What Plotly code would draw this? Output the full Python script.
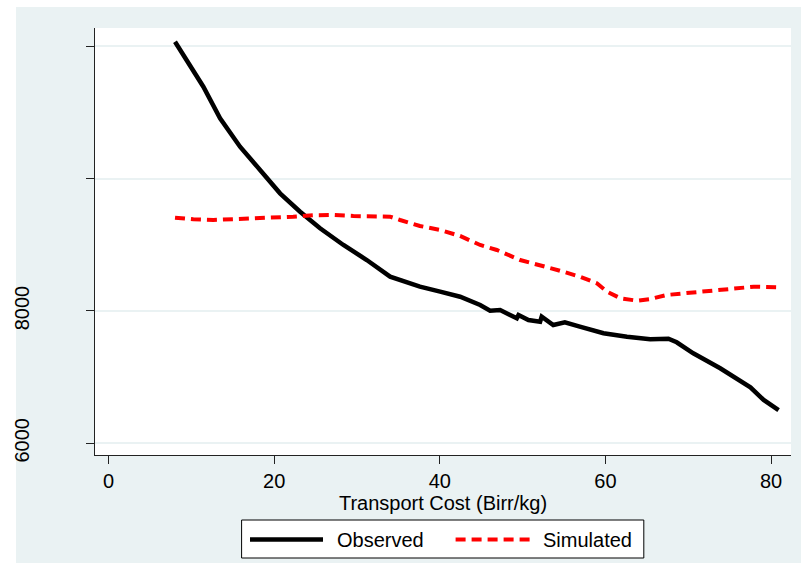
import plotly.graph_objects as go

# ---- data ----
obs_x = [8.03, 9.8, 11.45, 13.47, 15.88, 18.30, 20.71, 23.13, 25.54, 28.36, 31.18, 34.0, 37.6,
         40.04, 42.45, 44.87, 46.07, 47.28, 49.3, 49.5, 50.7, 52.11, 52.3, 53.7, 55.1,
         56.9, 59.76, 62.6, 65.4, 67.6, 68.6, 70.6, 73.85, 77.5, 79.1, 80.9]
obs_y = [12070, 11720, 11391, 10913, 10484, 10132, 9779, 9501, 9250, 8998, 8771, 8519, 8367,
         8292, 8216, 8091, 8005, 8015, 7890, 7940, 7864, 7838, 7914, 7788, 7829,
         7763, 7663, 7612, 7572, 7581, 7527, 7360, 7134, 6847, 6655, 6503]

sim_x = [8.03, 10.24, 12.66, 15.07, 17.49, 19.9, 22.3, 24.7, 27.15, 29.57, 31.98, 34.0,
         35.2, 37.6, 40.04, 42.45, 44.87, 46.88, 49.7, 52.1, 54.5, 56.9, 58.96, 60.2,
         61.8, 63.8, 65.4, 67.4, 69.8, 72.25, 75.06, 77.9, 80.9]
sim_y = [9411, 9386, 9376, 9386, 9396, 9411, 9426, 9447, 9451, 9436, 9426, 9426,
         9376, 9285, 9225, 9134, 8998, 8922, 8771, 8695, 8609, 8519, 8419, 8292,
         8192, 8156, 8181, 8242, 8268, 8292, 8333, 8367, 8358]

x_ticks = [0, 20, 40, 60, 80]
x_tick_labels = ["0", "20", "40", "60", "80"]
y_ticks = [6000, 8000, 10000, 12000]
y_tick_labels = ["6000", "8000", "", ""]

series_names = ["Observed", "Simulated"]
x_title = "Transport Cost (Birr/kg)"

# ---- layout geometry (pixels) ----
W, H = 801, 563
ML, MR, MT, MB = 95, 10, 28, 108
PW, PH = W - ML - MR, H - MT - MB
BG = "#EAF2F3"
FONT = "Liberation Sans, Arial, sans-serif"


def px_x(p):
    return (p - ML) / PW


def px_y(p):
    return (H - MB - p) / PH


fig = go.Figure()
fig.add_trace(go.Scatter(x=obs_x, y=obs_y, mode="lines", name=series_names[0],
                         line=dict(color="black", width=4.5), showlegend=False))
fig.add_trace(go.Scatter(x=sim_x, y=sim_y, mode="lines", name=series_names[1],
                         line=dict(color="red", width=4, dash="10px,6px"), showlegend=False))

shapes = [
    # white strips outside the graph region
    dict(type="rect", xref="paper", yref="paper", x0=px_x(0), x1=px_x(16), y0=px_y(H), y1=px_y(0),
         fillcolor="white", line=dict(width=0), layer="below"),
    dict(type="rect", xref="paper", yref="paper", x0=px_x(0), x1=px_x(W), y0=px_y(7), y1=px_y(0),
         fillcolor="white", line=dict(width=0), layer="below"),
    # legend box
    dict(type="rect", xref="paper", yref="paper", x0=px_x(241.6), x1=px_x(643.8),
         y0=px_y(558), y1=px_y(520), fillcolor="white", line=dict(color="black", width=1),
         layer="below"),
    dict(type="line", xref="paper", yref="paper", x0=px_x(250), x1=px_x(323),
         y0=px_y(539.5), y1=px_y(539.5), line=dict(color="black", width=4.5)),
    dict(type="line", xref="paper", yref="paper", x0=px_x(455.6), x1=px_x(530),
         y0=px_y(539.5), y1=px_y(539.5), line=dict(color="red", width=4, dash="10px,6px")),
]

annotations = [
    dict(text=series_names[0], xref="paper", yref="paper", x=px_x(335), y=px_y(540),
         xanchor="left", yanchor="middle", showarrow=False, font=dict(size=20, color="black", family=FONT)),
    dict(text=series_names[1], xref="paper", yref="paper", x=px_x(541), y=px_y(540),
         xanchor="left", yanchor="middle", showarrow=False, font=dict(size=20, color="black", family=FONT)),
]

fig.update_layout(
    width=W, height=H,
    margin=dict(l=ML, r=MR, t=MT, b=MB, autoexpand=False),
    paper_bgcolor=BG, plot_bgcolor="white",
    font=dict(family=FONT, size=20, color="black"),
    shapes=shapes, annotations=annotations,
    showlegend=False,
)
fig.update_xaxes(
    range=[-1.63, 82.4], tickvals=x_ticks, ticktext=x_tick_labels, automargin=False,
    showgrid=False, zeroline=False, showline=True, linecolor="#222", linewidth=1.2,
    ticks="outside", ticklen=8, tickcolor="#222", tickwidth=1.2,
    tickfont=dict(size=20, color="black"),
    title=dict(text=x_title, font=dict(size=20, color="black"), standoff=3),
)
fig.update_yaxes(
    range=[5823, 12278], tickvals=y_ticks, ticktext=y_tick_labels, automargin=False,
    showgrid=True, gridcolor=BG, gridwidth=2, zeroline=False,
    showline=True, linecolor="#222", linewidth=1.2,
    ticks="outside", ticklen=8, tickcolor="#222", tickwidth=1.2,
    tickangle=-90, ticklabelstandoff=49,
    tickfont=dict(size=20, color="black"),
)

fig.write_html("out.html", config={"displayModeBar": False},
               post_script="document.body.style.margin='0';document.body.style.overflow='hidden';")
